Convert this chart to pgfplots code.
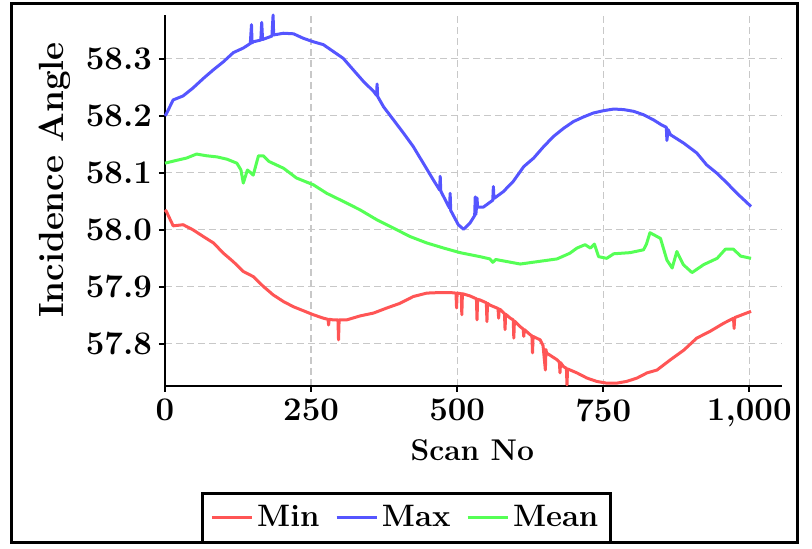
\documentclass[border=0pt]{standalone}
\usepackage{pgfplots}
\pgfplotsset{compat=1.18}
\definecolor{minc}{RGB}{255,85,85}
\definecolor{maxc}{RGB}{85,85,255}
\definecolor{meanc}{RGB}{85,255,85}
\definecolor{gridc}{RGB}{200,200,200}
\begin{document}
\begin{tikzpicture}
\begin{axis}[
  at={(0,0)}, anchor=south west,
  scale only axis, width=308.5pt, height=185.5pt,
  xmin=0, xmax=1056, ymin=57.726, ymax=58.377,
  axis x line*=bottom, axis y line*=left,
  x axis line style={line width=1.3pt},
  y axis line style={line width=0.8pt},
  xtick={0,250,500,750,1000},
  ytick={57.8,57.9,58.0,58.1,58.2,58.3},
  tick align=outside, major tick length=3pt,
  tick style={black, line width=0.8pt},
  grid=major,
  major grid style={gridc, line width=0.6pt, dash pattern=on 3.5pt off 2pt},
  /pgf/number format/assume math mode=true,
  x tick label style={/pgf/number format/1000 sep={,}},
  y tick label style={/pgf/number format/.cd, fixed, precision=1, fixed zerofill},
  tick label style={font=\bfseries\fontsize{16.5}{18}\selectfont},
  xlabel={Scan No}, ylabel={Incidence Angle},
  xlabel style={font=\bfseries\fontsize{15}{17}\selectfont, at={(axis description cs:0.498,-0.172)}, anchor=center},
  ylabel style={font=\bfseries\fontsize{17.5}{19}\selectfont, at={(axis description cs:-0.178,0.555)}, anchor=center, rotate=0},
  clip=false,
  legend columns=3,
  legend style={at={(axis description cs:0.3914,-0.4232)}, anchor=south,
    draw=black, line width=1.2pt, inner xsep=4pt, inner ysep=4pt,
    font=\bfseries\fontsize{15.5}{17}\selectfont,
    /tikz/every even column/.append style={column sep=6pt}},
  legend image code/.code={\draw[#1, line width=1.3pt] (0pt,0pt) -- (20pt,0pt);},
  every axis plot/.append style={line width=1.5pt, line join=round},
]
\addplot[minc] coordinates {
(0,58.035) (2,58.033) (14,58.007) (31,58.009) (48,58.000) (66,57.988) (83,57.977)
(100,57.959) (117,57.944) (134,57.927) (151,57.918) (168,57.901) (185,57.886)
(203,57.874) (220,57.865) (237,57.858) (254,57.851) (271,57.845)
(279,57.843) (280,57.833) (281,57.843) (288,57.842)
(296,57.842) (297,57.807) (298,57.842) (311,57.842) (334,57.849) (357,57.854)
(380,57.863) (402,57.871) (425,57.883) (448,57.889) (471,57.890) (488,57.890)
(498,57.889) (499,57.863) (500,57.889) (507,57.888) (508,57.851) (509,57.888)
(522,57.884) (533,57.879) (534,57.842) (535,57.878) (539,57.877)
(550,57.872) (551,57.839) (552,57.871) (556,57.868)
(570,57.862) (571,57.845) (572,57.861) (574,57.860)
(581,57.853) (582,57.825) (583,57.852) (591,57.845)
(596,57.842) (597,57.810) (598,57.840) (608,57.830)
(613,57.826) (614,57.813) (615,57.825) (625,57.816)
(628,57.814) (629,57.784) (630,57.813) (642,57.807)
(647,57.797) (651,57.754) (652,57.790) (653,57.784) (671,57.772)
(675,57.768) (676,57.749) (677,57.767) (682,57.760)
(687,57.757) (688,57.728) (689,57.756) (705,57.749) (722,57.740) (739,57.734)
(756,57.731) (773,57.731) (790,57.734) (808,57.740) (825,57.749) (842,57.754)
(865,57.772) (888,57.789) (910,57.810) (933,57.822) (956,57.836)
(973,57.845) (974,57.827) (975,57.846) (1003,57.857)
};
\addlegendentry{Min}
\addplot[maxc] coordinates {
(0,58.200) (2,58.203) (14,58.228) (31,58.235) (48,58.249) (66,58.266) (83,58.281)
(100,58.295) (117,58.311) (134,58.319)
(146,58.327) (148,58.360) (149,58.328) (151,58.330)
(164,58.333) (165.5,58.364) (167,58.334)
(183,58.340) (185,58.377) (186,58.342)
(203,58.345) (220,58.344) (237,58.336) (254,58.330) (271,58.325) (288,58.313)
(305,58.301) (322,58.281) (340,58.260) (357,58.243)
(362,58.236) (363,58.256) (364,58.234)
(374,58.216) (391,58.193) (408,58.170) (425,58.146) (442,58.117) (459,58.088)
(470,58.070) (471,58.094) (472,58.068) (477,58.058)
(487,58.038) (488,58.064) (489,58.034)
(502,58.009) (511,58.001) (522,58.012)
(530,58.025) (531,58.058) (532,58.027)
(533,58.038) (534,58.056) (535,58.040) (545,58.040)
(561,58.052) (562,58.076) (563,58.055)
(579,58.067) (596,58.085) (614,58.111) (631,58.126) (648,58.146) (665,58.164)
(682,58.178) (699,58.190) (716,58.198) (733,58.205) (750,58.209) (768,58.212)
(785,58.211) (802,58.208) (819,58.202) (836,58.193) (850,58.184)
(858,58.180) (859,58.157) (861,58.176) (865,58.167)
(888,58.152) (910,58.135) (927,58.114) (945,58.099) (962,58.082) (979,58.064)
(1003,58.041)
};
\addlegendentry{Max}
\addplot[meanc] coordinates {
(0,58.117) (20,58.122) (37,58.126) (54,58.133) (71,58.130) (89,58.128) (106,58.124)
(123,58.117) (130,58.105) (134,58.082) (138,58.095) (141,58.105) (147,58.100)
(151,58.096) (156,58.115) (160,58.130) (168,58.130) (178,58.120) (203,58.108)
(225,58.091) (254,58.079) (277,58.064) (305,58.050) (334,58.035) (362,58.018)
(391,58.003) (420,57.988) (448,57.977) (477,57.968) (505,57.960) (539,57.953)
(556,57.949) (561,57.943) (566,57.948) (608,57.940) (636,57.944) (671,57.949)
(693,57.959) (705,57.968) (719,57.974) (728,57.968) (735,57.975) (742,57.953)
(756,57.950) (768,57.958) (796,57.960) (819,57.965) (824,57.975) (830,57.995)
(848,57.985) (859,57.947) (868,57.933) (876,57.962) (887,57.939) (902,57.925)
(922,57.939) (945,57.950) (959,57.966) (973,57.966) (985,57.954) (1003,57.950)
};
\addlegendentry{Mean}
\end{axis}
\draw[line width=1.5pt] (-76.5pt,-78.5pt) rectangle (316pt,191pt);
\pgfresetboundingbox
\path[use as bounding box] (-82.5pt,-81.5pt) rectangle (323.5pt,193pt);
\end{tikzpicture}
\end{document}
